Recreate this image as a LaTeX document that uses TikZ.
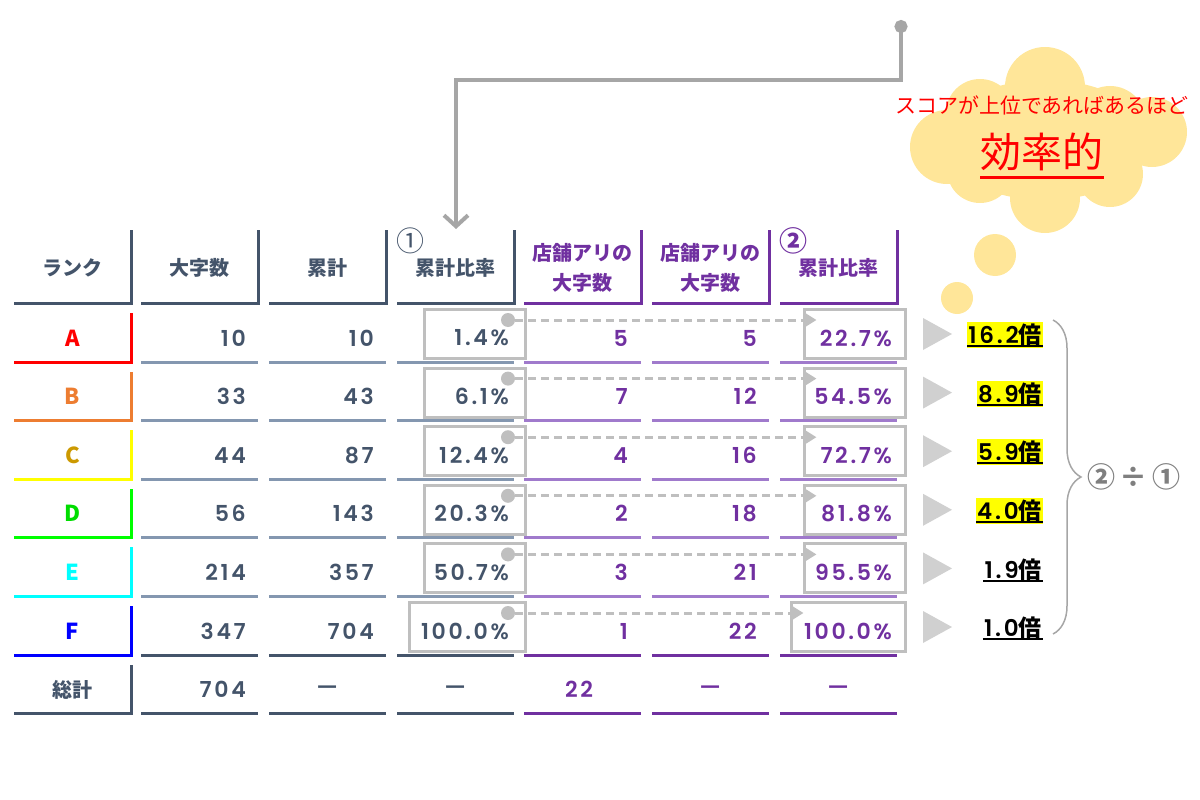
\documentclass[tikz,border=0pt]{standalone}
\usepackage{fontspec}
\setmainfont{Noto Sans CJK JP}
\newfontfamily\numf[LetterSpace=12,UprightFont=* SemiBold,BoldFont=* SemiBold]{Poppins}
\usetikzlibrary{arrows.meta,decorations.pathreplacing,calc}
\definecolor{slate}{HTML}{44546A}
\definecolor{slatel}{HTML}{8497B0}
\definecolor{purp}{HTML}{7030A0}
\definecolor{purpl}{HTML}{A07ACC}
\definecolor{boxg}{HTML}{BFBFBF}
\definecolor{conng}{HTML}{A6A6A6}
\definecolor{cloudc}{HTML}{FFE699}
\definecolor{trig}{HTML}{D0D0D0}
\definecolor{bracec}{HTML}{A6A6A6}
\definecolor{divc}{HTML}{7F7F7F}
\definecolor{rA}{HTML}{FF0000}
\definecolor{rB}{HTML}{ED7D31}
\definecolor{rCl}{HTML}{FFFF00}
\definecolor{rCt}{HTML}{CC9900}
\definecolor{rDl}{HTML}{00FF00}
\definecolor{rDt}{HTML}{00DD00}
\definecolor{rE}{HTML}{00FFFF}
\definecolor{rF}{HTML}{0000FF}
\definecolor{hly}{HTML}{FFFF00}
\begin{document}
\begin{tikzpicture}[x=1pt,y=-1pt,
  grid/.style={line width=3pt},
  hd/.style={font=\fontsize{20}{30}\selectfont\bfseries, inner sep=0pt, align=center},
  circno/.style={font=\fontsize{28}{30}\selectfont, inner sep=0pt},
  numtxt/.style={font=\numf\fontsize{22}{24}\selectfont, inner sep=0pt, anchor=east},
  rk/.style={font=\fontsize{22}{24}\selectfont\bfseries, inner sep=0pt},
  dashtxt/.style={font=\fontsize{22}{24}\selectfont\bfseries, inner sep=0pt},
  gbox/.style={draw=boxg, line width=3pt, minimum height=49pt, inner sep=0pt, outer sep=0pt},
  gdot/.style={circle, fill=boxg, minimum size=14pt, inner sep=0pt},
  dashc/.style={draw=boxg, line width=3pt, dash pattern=on 8pt off 5pt, -{Triangle[length=12pt,width=14pt]}},
  conn/.style={draw=conng, line width=4pt, {Circle[length=13pt]}-{Straight Barb[length=11pt,width=24pt]}},
  mult/.style={font=\fontsize{23}{26}\selectfont\bfseries, inner xsep=1pt, inner ysep=2pt, anchor=east},
  cloudtxt/.style={text=rA, inner sep=0pt}
]
\useasboundingbox (0,0) rectangle (1200,800);

% ---------- cloud ----------
\begin{scope}[fill=cloudc]
  \fill (1045,140) ellipse [x radius=105pt, y radius=60pt];
  \fill (1045,87) circle (40pt);
  \fill (980,113) circle (34pt);
  \fill (1110,122) circle (36pt);
  \fill (1152,132) circle (35pt);
  \fill (947,147) circle (37pt);
  \fill (980,170) circle (33pt);
  \fill (1045,198) circle (35pt);
  \fill (1110,174) circle (33pt);
  \fill (995,255) circle (21pt);
  \fill (957,298) circle (16pt);
\end{scope}
\node[cloudtxt, font=\fontsize{21}{24}\selectfont] (ct1) at (1042,105) {スコアが上位であればあるほど};
\node[cloudtxt, font=\fontsize{41}{44}\selectfont] (ct2) at (1042,152) {効率的};
\draw[rA, line width=3pt] ($(ct2.south west)+(0,6)$) -- ($(ct2.south east)+(0,6)$);

% ---------- header ----------
\foreach \L/\c in {14/slate,141/slate,269/slate,397/slate,524/purp,652/purp,780/purp}
  \draw[grid,\c] (\L,303) -| (\L+117,230);
\node[hd,slate] (h1) at (72.5,268) {ランク};
\node[hd,slate] (h2) at (199.5,268) {大字数};
\node[hd,slate] (h3) at (327.5,268) {累計};
\node[hd,slate] (h4) at (455.5,268) {累計比率};
\node[hd,purp] (h5) at (582.5,268) {店舗アリの\\大字数};
\node[hd,purp] (h6) at (710.5,268) {店舗アリの\\大字数};
\node[hd,purp] (h7) at (838.5,268) {累計比率};
\node[circno,slate] (c1) at (410,241) {①};
\node[circno,purp,font=\fontsize{28}{30}\selectfont\bfseries] (c2) at (793,241) {②};

% ---------- main connector ----------
\coordinate (src) at (901,20);
\coordinate (bend) at (456,80);
\coordinate (h4top) at (456,229);
\draw[conn] (src) |- (bend) -- (h4top);

% ---------- data rows ----------
\foreach \i/\nm/\lc/\tc/\sl/\pl/\va/\vb/\vc/\vd/\ve/\vf/\vm/\hl in {
  0/A/rA/rA/slatel/purpl/10/10/1.4\%/5/5/22.7\%/16.2/hly,
  1/B/rB/rB/slatel/purpl/33/43/6.1\%/7/12/54.5\%/8.9/hly,
  2/C/rCl/rCt/slatel/purpl/44/87/12.4\%/4/16/72.7\%/5.9/hly,
  3/D/rDl/rDt/slatel/purpl/56/143/20.3\%/2/18/81.8\%/4.0/hly,
  4/E/rE/rE/slatel/purpl/214/357/50.7\%/3/21/95.5\%/1.9/white,
  5/F/rF/rF/slate/purp/347/704/100.0\%/1/22/100.0\%/1.0/white}
{
  \pgfmathsetmacro\yb{362+58.6*\i}
  \pgfmathsetmacro\yc{\yb-24}
  \pgfmathsetmacro\bl{ifthenelse(\i==5,409.5,424.5)}
  \pgfmathsetmacro\bw{525.5-\bl}
  \pgfmathsetmacro\tl{ifthenelse(\i==5,791.5,804.5)}
  \pgfmathsetmacro\tw{905.5-\tl}
  % lines
  \draw[grid,\lc] (14,\yb) -| (131,\yb-49);
  \foreach \L in {141,269,397} \draw[grid,\sl] (\L,\yb) -- (\L+117,\yb);
  \foreach \L in {524,652,780} \draw[grid,\pl] (\L,\yb) -- (\L+117,\yb);
  % texts
  \node[rk,\tc] (r\i) at (72.5,\yc) {\nm};
  \node[numtxt,slate] (a\i) at (246,\yc) {\va};
  \node[numtxt,slate] (b\i) at (374,\yc) {\vb};
  \node[numtxt,purp] (u\i) at (628,\yc) {\vd};
  \node[numtxt,purp] (v\i) at (757,\yc) {\ve};
  % boxes
  \node[gbox, minimum width=\bw pt, anchor=north west] (s\i) at (\bl,\yb-52.5) {};
  \node[gbox, minimum width=\tw pt, anchor=north west] (t\i) at (\tl,\yb-52.5) {};
  \node[numtxt,slate] (p\i) at (509,\yc) {\vc};
  \node[numtxt,purp] (q\i) at (892,\yc) {\vf};
  \node[gdot] (d\i) at (508,\yb-42) {};
  \draw[dashc] (d\i) -- ($(t\i.west |- d\i)+(12,0)$);
  % result
  \fill[trig] (923,\yc-20) -- (952,\yc-4) -- (923,\yc+12) -- cycle;
  \node[mult, fill=\hl] (m\i) at (1043,\yc-3) {{\numf\bfseries \vm}倍};
  \draw[line width=2pt] ($(m\i.south west)+(0,-2)$) -- ($(m\i.south east)+(0,-2)$);
}

% ---------- total row ----------
\draw[grid,slate] (14,713.6) -| (131,664.6);
\foreach \L in {141,269,397} \draw[grid,slate] (\L,713.6) -- (\L+117,713.6);
\foreach \L in {524,652,780} \draw[grid,purp] (\L,713.6) -- (\L+117,713.6);
\node[hd,slate] (tot) at (72.5,689.6) {総計};
\node[numtxt,slate] (tot2) at (246,689.6) {704};
\node[dashtxt,slate] (tot3) at (327.5,689.6) {—};
\node[dashtxt,slate] (tot4) at (455.5,689.6) {—};
\node[numtxt,purp,anchor=center] (tot5) at (579,689.6) {22};
\node[dashtxt,purp] (tot6) at (710.5,689.6) {—};
\node[dashtxt,purp] (tot7) at (838.5,689.6) {—};

% ---------- brace ----------
\draw[bracec, line width=1.5pt, decorate, decoration={brace, amplitude=28pt}] (1053,320) -- (1053,634);
\node[font=\fontsize{28}{30}\selectfont\bfseries, text=divc, anchor=west, inner sep=0pt] (div) at (1087,477) {②\,÷\,①};
\end{tikzpicture}
\end{document}
